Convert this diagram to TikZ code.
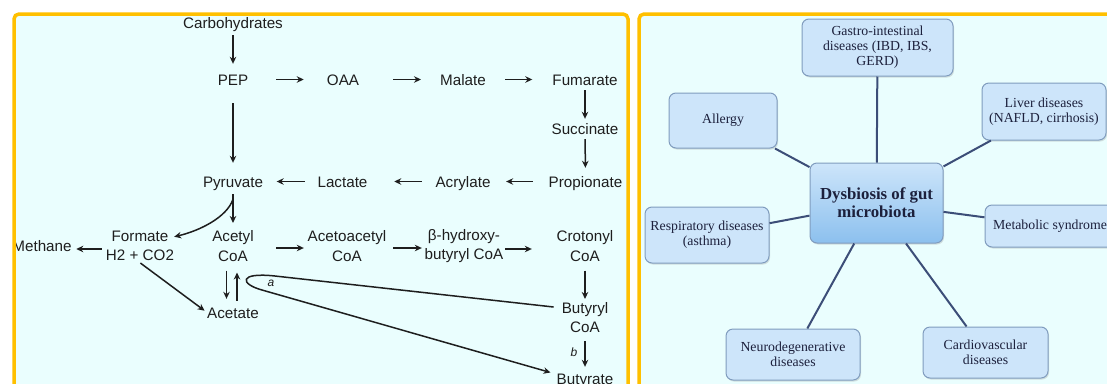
\documentclass[tikz,border=0pt]{standalone}
\usepackage{fontspec}
\setmainfont{Liberation Sans}
\newfontfamily\diseasefont{Liberation Serif}
\usetikzlibrary{arrows.meta,shadows}
\definecolor{framecol}{RGB}{255,192,0}
\definecolor{panelbg}{RGB}{234,254,254}
\definecolor{boxfill}{RGB}{205,229,250}
\definecolor{boxline}{RGB}{128,156,190}
\definecolor{hubtop}{RGB}{205,229,250}
\definecolor{hubbottom}{RGB}{140,192,238}
\definecolor{linkcol}{RGB}{60,78,120}
\definecolor{navytext}{RGB}{28,32,60}
\definecolor{inktext}{RGB}{30,30,30}
\tikzstyle{panel} = [draw=framecol, line width=3.5pt, rounded corners=5pt]
\tikzstyle{chem} = [inner sep=0pt, text=inktext, text height=11pt, text depth=0pt]
\tikzstyle{chemtwo} = [inner sep=0pt, text=inktext, align=center]
\tikzstyle{arrow} = [draw=inktext, line width=1.5pt, -{Stealth[length=7pt,width=6.5pt]}]
\tikzstyle{enzyme} = [inner sep=0pt, text=inktext, font=\itshape\fontsize{12}{12}\selectfont]
\tikzstyle{disease} = [rectangle, rounded corners=7pt, draw=boxline, line width=1pt, fill=boxfill, text=navytext, align=center, inner sep=2pt, font=\diseasefont\fontsize{13.8}{15}\selectfont, drop shadow={shadow xshift=1pt, shadow yshift=-1.5pt, opacity=0.25}]
\tikzstyle{hub} = [disease, top color=hubtop, bottom color=hubbottom, font=\diseasefont\bfseries\fontsize{16.8}{18}\selectfont]
\tikzstyle{link} = [draw=linkcol, line width=2pt]

\begin{document}
\begin{tikzpicture}[x=1pt, y=-1pt]
    \tikzstyle{every node}=[font=\fontsize{15.2}{19.5}\selectfont]
    \useasboundingbox (0,0) rectangle (1107,383);
    \clip (0,0) rectangle (1107,383);
    \fill [white] (0,0) rectangle (1107,383);
    \fill [panelbg, rounded corners=5pt] (14,14) rectangle (628,420);
    \fill [panelbg, rounded corners=5pt] (639,14) rectangle (1140,420);

    % fermentation pathways
    \node (carb) [chem] at (233,23) {Carbohydrates};
    \node (pep) [chem] at (233,79.5) {PEP};
    \node (oaa) [chem] at (343,79.5) {OAA};
    \node (malate) [chem] at (463,79.5) {Malate};
    \node (fumarate) [chem] at (585,79.5) {Fumarate};
    \node (succinate) [chem] at (585,128.5) {Succinate};
    \node (propionate) [chem] at (585.5,181.5) {Propionate};
    \node (acrylate) [chem] at (463,181.5) {Acrylate};
    \node (lactate) [chem] at (342.5,181.5) {Lactate};
    \node (pyruvate) [chem] at (233,181.5) {Pyruvate};
    \node (methane) [chem] at (42,246) {Methane};
    \node (formate) [chemtwo] at (140,246) {Formate\\H2 + CO2};
    \node (acetylcoa) [chemtwo] at (233,246) {Acetyl\\CoA};
    \node (acetoacetyl) [chemtwo] at (347,246) {Acetoacetyl\\CoA};
    \node (hydroxy) [chemtwo] at (464,246) {β-hydroxy-\\butyryl CoA};
    \node (crotonyl) [chemtwo] at (585,246) {Crotonyl\\CoA};
    \node (butyryl) [chemtwo] at (585,317.5) {Butyryl\\CoA};
    \node (acetate) [chem] at (233,312.5) {Acetate};
    \node (butyrate) [chem] at (585,378.5) {Butyrate};

    \draw [arrow, shorten <=6.5pt, shorten >=10pt] (carb) -- (pep);
    \draw [arrow, shorten <=27.8pt, shorten >=23pt] (pep) -- (oaa);
    \draw [arrow, shorten <=34pt, shorten >=19pt] (oaa) -- (malate);
    \draw [arrow, shorten <=19pt, shorten >=20pt] (malate) -- (fumarate);
    \draw [arrow, shorten <=5pt, shorten >=4pt] (fumarate) -- (succinate);
    \draw [arrow, shorten <=5pt, shorten >=8pt] (succinate) -- (propionate);
    \draw [arrow, shorten <=15.7pt, shorten >=15.5pt] (propionate) -- (acrylate);
    \draw [arrow, shorten <=13.5pt, shorten >=26.6pt] (acrylate) -- (lactate);
    \draw [arrow, shorten <=12.6pt, shorten >=13.5pt] (lactate) -- (pyruvate);
    \draw [arrow, shorten <=18pt, shorten >=13pt] (pep) -- (pyruvate);
    \draw [arrow, shorten <=7pt, shorten >=7.5pt] (pyruvate) -- (acetylcoa);
    \draw [arrow] ([yshift=-12pt]pyruvate.south) .. controls +(-6,18) and +(25.5,-6) .. ([yshift=-6pt]formate.north east);
    \draw [arrow, shorten <=4pt, shorten >=4.5pt] ([yshift=-3pt]formate.west) -- ([yshift=-3pt]methane.east);
    \draw [arrow, shorten <=3pt, shorten >=3pt] ([xshift=-2pt]formate.south) -- (acetate.west);
    \draw [arrow, shorten <=22.3pt, shorten >=3.7pt] ([yshift=-2pt]acetylcoa.east) -- ([yshift=-2pt]acetoacetyl.west);
    \draw [arrow, shorten <=6.7pt, shorten >=2.7pt] ([yshift=-2pt]acetoacetyl.east) -- ([yshift=-2pt]hydroxy.west);
    \draw [arrow, shorten <=1.7pt, shorten >=24.7pt] ([yshift=-3pt]hydroxy.east) -- ([yshift=-3pt]crotonyl.west);
    \draw [arrow, shorten <=9pt, shorten >=3pt] (crotonyl) -- (butyryl);
    \draw [arrow, shorten <=8pt, shorten >=6pt] (butyryl) -- (butyrate);
    \draw [arrow, shorten <=9pt, shorten >=8pt] ([xshift=-6.5pt]acetylcoa.south) -- ([xshift=-6.5pt]acetate.north);
    \draw [arrow, shorten <=6pt, shorten >=11pt] ([xshift=4pt]acetate.north) -- ([xshift=4pt]acetylcoa.south);
    % CoA transferase loop
    \draw [arrow] ([xshift=-8pt,yshift=10.5pt]butyryl.west) -- (275,276) .. controls (238,272) and (240,284) .. (262,290) -- ([xshift=-6pt,yshift=6pt]butyrate.west);
    \node (enza) [enzyme] at (271,283) {a};
    \node (enzb) [enzyme] at (574,352) {b};

    % diseases
    \node (dysbiosis) [hub, minimum width=133pt, minimum height=80pt] at (876.5,203) {Dysbiosis of gut\\microbiota};
    \node (gastro) [disease, minimum width=151pt, minimum height=57pt] at (877.5,47.5) {Gastro-intestinal\\diseases (IBD, IBS,\\GERD)};
    \node (allergy) [disease, minimum width=108pt, minimum height=55pt] at (723,120.5) {Allergy};
    \node (liver) [disease, minimum width=124pt, minimum height=57pt] at (1044,111.5) {Liver diseases\\(NAFLD, cirrhosis)};
    \node (respiratory) [disease, minimum width=124pt, minimum height=56pt] at (707,235) {Respiratory diseases\\(asthma)};
    \node (metabolic) [disease, minimum width=130pt, minimum height=42pt] at (1050,226) {Metabolic syndrome};
    \node (neuro) [disease, minimum width=134pt, minimum height=51pt] at (793,354.5) {Neurodegenerative\\diseases};
    \node (cardio) [disease, minimum width=125pt, minimum height=51pt] at (985.5,352.5) {Cardiovascular\\diseases};

    \draw [link] (gastro) -- (dysbiosis);
    \draw [link] (allergy) -- (dysbiosis);
    \draw [link] (liver) -- (dysbiosis);
    \draw [link] (respiratory) -- (dysbiosis);
    \draw [link] (metabolic) -- (dysbiosis);
    \draw [link] (neuro) -- (dysbiosis);
    \draw [link] (cardio) -- (dysbiosis);

    \draw [panel] (14,14) rectangle (628,420);
    \draw [panel] (639,14) rectangle (1140,420);
\end{tikzpicture}
\end{document}
